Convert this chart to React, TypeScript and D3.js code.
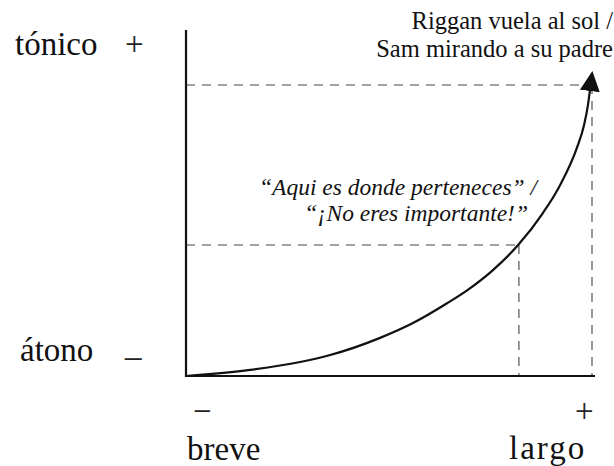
import React, { useEffect, useRef } from "react";
import * as d3 from "d3";

const W = 614;
const H = 466;

// curve: x = duration (0 breve .. 1 largo), y = tonicity (0 átono .. 1 tónico)
const curveT = [0, 0.158, 0.281, 0.355, 0.478, 0.559, 0.643, 0.695, 0.756, 0.818, 0.879, 0.921, 0.963, 0.98, 0.99, 0.995];
const curveV = [0, 0.021, 0.048, 0.072, 0.131, 0.182, 0.25, 0.297, 0.364, 0.45, 0.56, 0.655, 0.785, 0.86, 0.931, 0.983];

// reference points (dashed guides)
const guideT = [0.82, 1.0];
const guideV = [0.45, 1.0];

const yLabels = ["átono", "tónico"];
const ySigns = ["_", "+"];
const xLabels = ["breve", "largo"];
const xSigns = ["\u2212", "+"];
const topNote = ["Riggan vuela al sol /", "Sam mirando a su padre"];
const midNote = ["\u201CAqui es donde perteneces\u201D /", "\u201C\u00A1No eres importante!\u201D"];

export default function App() {
  const ref = useRef<SVGSVGElement | null>(null);

  useEffect(() => {
    const svg = d3.select(ref.current);
    svg.selectAll("*").remove();
    const font = "'Liberation Serif', 'Times New Roman', serif";

    const x = d3.scaleLinear().domain([0, 1]).range([186, 592]);
    const y = d3.scaleLinear().domain([0, 1]).range([376, 85]);

    const defs = svg.append("defs");
    defs
      .append("marker")
      .attr("id", "arrow")
      .attr("markerUnits", "userSpaceOnUse")
      .attr("viewBox", "0 -11 22 22")
      .attr("refX", 1)
      .attr("refY", 0)
      .attr("markerWidth", 22)
      .attr("markerHeight", 22)
      .attr("orient", "auto")
      .append("path")
      .attr("d", "M0,-10L20,0L0,10Z")
      .attr("fill", "#111");

    // dashed guides
    const g = svg.append("g").attr("stroke", "#444").attr("stroke-width", 1.1).attr("stroke-dasharray", "9,7").attr("fill", "none");
    guideT.forEach((t, i) => {
      const v = guideV[i];
      g.append("line").attr("x1", x(0)).attr("x2", x(t)).attr("y1", y(v)).attr("y2", y(v));
      g.append("line").attr("x1", x(t)).attr("x2", x(t)).attr("y1", y(v)).attr("y2", y(0));
    });

    // axes
    svg.append("line").attr("x1", x(0)).attr("x2", x(0)).attr("y1", 30).attr("y2", y(0) + 1).attr("stroke", "#111").attr("stroke-width", 2.2);
    svg.append("line").attr("x1", x(0) - 1).attr("x2", 595).attr("y1", y(0)).attr("y2", y(0)).attr("stroke", "#111").attr("stroke-width", 2.2);

    // curve
    const pts: [number, number][] = curveT.map((t, i) => [t, curveV[i]]);
    const line = d3
      .line<[number, number]>()
      .x((d) => x(d[0]))
      .y((d) => y(d[1]))
      .curve(d3.curveMonotoneX);
    svg
      .append("path")
      .attr("d", line(pts) || "")
      .attr("fill", "none")
      .attr("stroke", "#111")
      .attr("stroke-width", 2.2)
      .attr("marker-end", "url(#arrow)");

    // y labels
    const big = 33;
    svg.append("text").attr("x", 15).attr("y", 55).attr("font-size", big).attr("font-family", font).attr("fill", "#111").text(yLabels[1]);
    svg.append("text").attr("x", 125).attr("y", 55).attr("font-size", big).attr("font-family", font).attr("fill", "#222").text(ySigns[1]);
    svg.append("text").attr("x", 20).attr("y", 361).attr("font-size", big).attr("font-family", font).attr("fill", "#111").text(yLabels[0]);
    svg.append("text").attr("x", 125).attr("y", 356).attr("font-size", big).attr("font-family", font).attr("fill", "#222").text(ySigns[0]);

    // x labels
    svg.append("text").attr("x", 193).attr("y", 422).attr("font-size", big).attr("font-family", font).attr("fill", "#222").text(xSigns[0]);
    svg.append("text").attr("x", 575).attr("y", 422).attr("font-size", big).attr("font-family", font).attr("fill", "#222").text(xSigns[1]);
    svg.append("text").attr("x", 187).attr("y", 460).attr("font-size", big).attr("font-family", font).attr("fill", "#111").text(xLabels[0]);
    svg.append("text").attr("x", 509).attr("y", 459).attr("font-size", big).attr("letter-spacing", 2).attr("font-family", font).attr("fill", "#111").text(xLabels[1]);

    // notes
    topNote.forEach((s, i) => {
      svg.append("text").attr("x", 613).attr("y", 29 + i * 28).attr("text-anchor", "end").attr("font-size", 24.5).attr("font-family", font).attr("fill", "#111").text(s);
    });
    const midX = [537, 528];
    midNote.forEach((s, i) => {
      svg.append("text").attr("x", midX[i]).attr("y", 195 + i * 26).attr("text-anchor", "end").attr("font-size", 23.5).attr("font-style", "italic").attr("font-family", font).attr("fill", "#111").text(s);
    });
  }, []);

  return (
    <svg
      ref={ref}
      width={W}
      height={H}
      style={{ position: "fixed", left: 0, top: 0, background: "#fff" }}
    />
  );
}
